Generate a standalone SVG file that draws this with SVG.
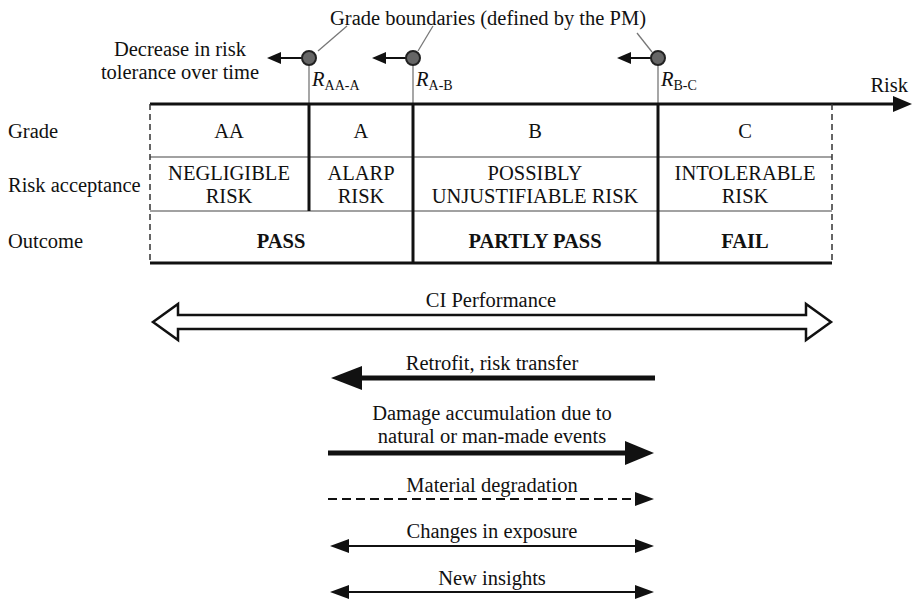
<svg xmlns="http://www.w3.org/2000/svg" width="916" height="603" viewBox="0 0 916 603">
<style>
text{font-family:"Liberation Serif","Times New Roman",serif;font-size:20.5px;fill:#111}
.c{text-anchor:middle}
.b{font-weight:bold}
.sub{font-size:14px}
.it{font-style:italic}
.thick{stroke:#111;stroke-width:3;fill:none}
.thin{stroke:#444;stroke-width:1.2;fill:none}
.dash{stroke:#333;stroke-width:1.5;stroke-dasharray:6 4;fill:none}
.gray{stroke:#777;stroke-width:1.3;fill:none}
.dot{fill:#666;stroke:#222;stroke-width:2}
.hd{fill:#111;stroke:none}
</style>
<rect width="916" height="603" fill="#fff"/>

<g id="boundaries">
  <text class="c" x="488" y="25">Grade boundaries (defined by the PM)</text>
  <line class="gray" x1="347" y1="26" x2="318" y2="51"/>
  <line class="gray" x1="433" y1="26" x2="418" y2="51"/>
  <line class="gray" x1="637" y1="33" x2="652" y2="52"/>
  <text class="c" x="180" y="56">Decrease in risk</text>
  <text class="c" x="180" y="79">tolerance over time</text>
  <line class="gray" x1="309" y1="58" x2="309" y2="104"/>
  <line class="gray" x1="413" y1="58" x2="413" y2="104"/>
  <line class="gray" x1="658" y1="58" x2="658" y2="104"/>
  <line x1="302" y1="58" x2="278" y2="58" stroke="#111" stroke-width="2"/>
  <polygon class="hd" points="267,58 281,52 281,64"/>
  <line x1="406" y1="58" x2="383" y2="58" stroke="#111" stroke-width="2"/>
  <polygon class="hd" points="372,58 386,52 386,64"/>
  <line x1="651" y1="58" x2="628" y2="58" stroke="#111" stroke-width="2"/>
  <polygon class="hd" points="617,58 631,52 631,64"/>
  <circle class="dot" cx="309" cy="58" r="7"/>
  <circle class="dot" cx="413" cy="58" r="7"/>
  <circle class="dot" cx="658" cy="58" r="7"/>
  <text x="312" y="86"><tspan class="it">R</tspan><tspan class="sub" dy="4">AA-A</tspan></text>
  <text x="416" y="86"><tspan class="it">R</tspan><tspan class="sub" dy="4">A-B</tspan></text>
  <text x="661" y="86"><tspan class="it">R</tspan><tspan class="sub" dy="4">B-C</tspan></text>
</g>

<g id="table">
  <line class="thick" x1="150" y1="104" x2="896" y2="104"/>
  <polygon class="hd" points="912,104 893,96 893,112"/>
  <text x="908" y="92" text-anchor="end">Risk</text>
  <line class="thin" x1="150" y1="157" x2="832" y2="157"/>
  <line class="thin" x1="150" y1="211" x2="832" y2="211"/>
  <line class="thick" x1="150" y1="263" x2="832" y2="263"/>
  <line class="dash" x1="150" y1="104" x2="150" y2="263"/>
  <line class="dash" x1="832" y1="104" x2="832" y2="263"/>
  <line class="thick" x1="309" y1="104" x2="309" y2="211"/>
  <line class="thick" x1="413" y1="104" x2="413" y2="263"/>
  <line class="thick" x1="658" y1="104" x2="658" y2="263"/>
  <text x="8" y="138">Grade</text>
  <text x="8" y="192">Risk acceptance</text>
  <text x="8" y="248">Outcome</text>
  <text class="c" x="229" y="138">AA</text>
  <text class="c" x="361" y="138">A</text>
  <text class="c" x="535" y="138">B</text>
  <text class="c" x="745" y="138">C</text>
  <text class="c" x="229" y="180">NEGLIGIBLE</text>
  <text class="c" x="229" y="203">RISK</text>
  <text class="c" x="361" y="180">ALARP</text>
  <text class="c" x="361" y="203">RISK</text>
  <text class="c" x="535" y="180">POSSIBLY</text>
  <text class="c" x="535" y="203">UNJUSTIFIABLE RISK</text>
  <text class="c" x="745" y="180">INTOLERABLE</text>
  <text class="c" x="745" y="203">RISK</text>
  <text class="c b" x="281" y="248">PASS</text>
  <text class="c b" x="535" y="248">PARTLY PASS</text>
  <text class="c b" x="745" y="248">FAIL</text>
</g>

<g id="ci-performance">
  <text class="c" x="491" y="307">CI Performance</text>
  <polygon points="153,322 178,304 178,315 806,315 806,304 831,322 806,340 806,329 178,329 178,340" fill="#fff" stroke="#111" stroke-width="2.5" stroke-linejoin="miter"/>
</g>

<g id="retrofit">
  <text class="c" x="492" y="370">Retrofit, risk transfer</text>
  <line x1="655" y1="378" x2="355" y2="378" stroke="#111" stroke-width="5"/>
  <polygon class="hd" points="331,378 362,366 362,390"/>
</g>

<g id="damage">
  <text class="c" x="492" y="420">Damage accumulation due to</text>
  <text class="c" x="492" y="443">natural or man-made events</text>
  <line x1="328" y1="453" x2="630" y2="453" stroke="#111" stroke-width="5"/>
  <polygon class="hd" points="654,453 625,441 625,465"/>
</g>

<g id="material">
  <text class="c" x="492" y="492">Material degradation</text>
  <line x1="328" y1="499" x2="638" y2="499" stroke="#111" stroke-width="2" stroke-dasharray="9 5"/>
  <polygon class="hd" points="654,499 635,492 635,506"/>
</g>

<g id="exposure">
  <text class="c" x="492" y="538">Changes in exposure</text>
  <line x1="345" y1="546" x2="638" y2="546" stroke="#111" stroke-width="2"/>
  <polygon class="hd" points="330,546 349,539 349,553"/>
  <polygon class="hd" points="654,546 635,539 635,553"/>
</g>

<g id="insights">
  <text class="c" x="492" y="585">New insights</text>
  <line x1="345" y1="592" x2="638" y2="592" stroke="#111" stroke-width="2"/>
  <polygon class="hd" points="330,592 349,585 349,599"/>
  <polygon class="hd" points="654,592 635,585 635,599"/>
</g>
</svg>
